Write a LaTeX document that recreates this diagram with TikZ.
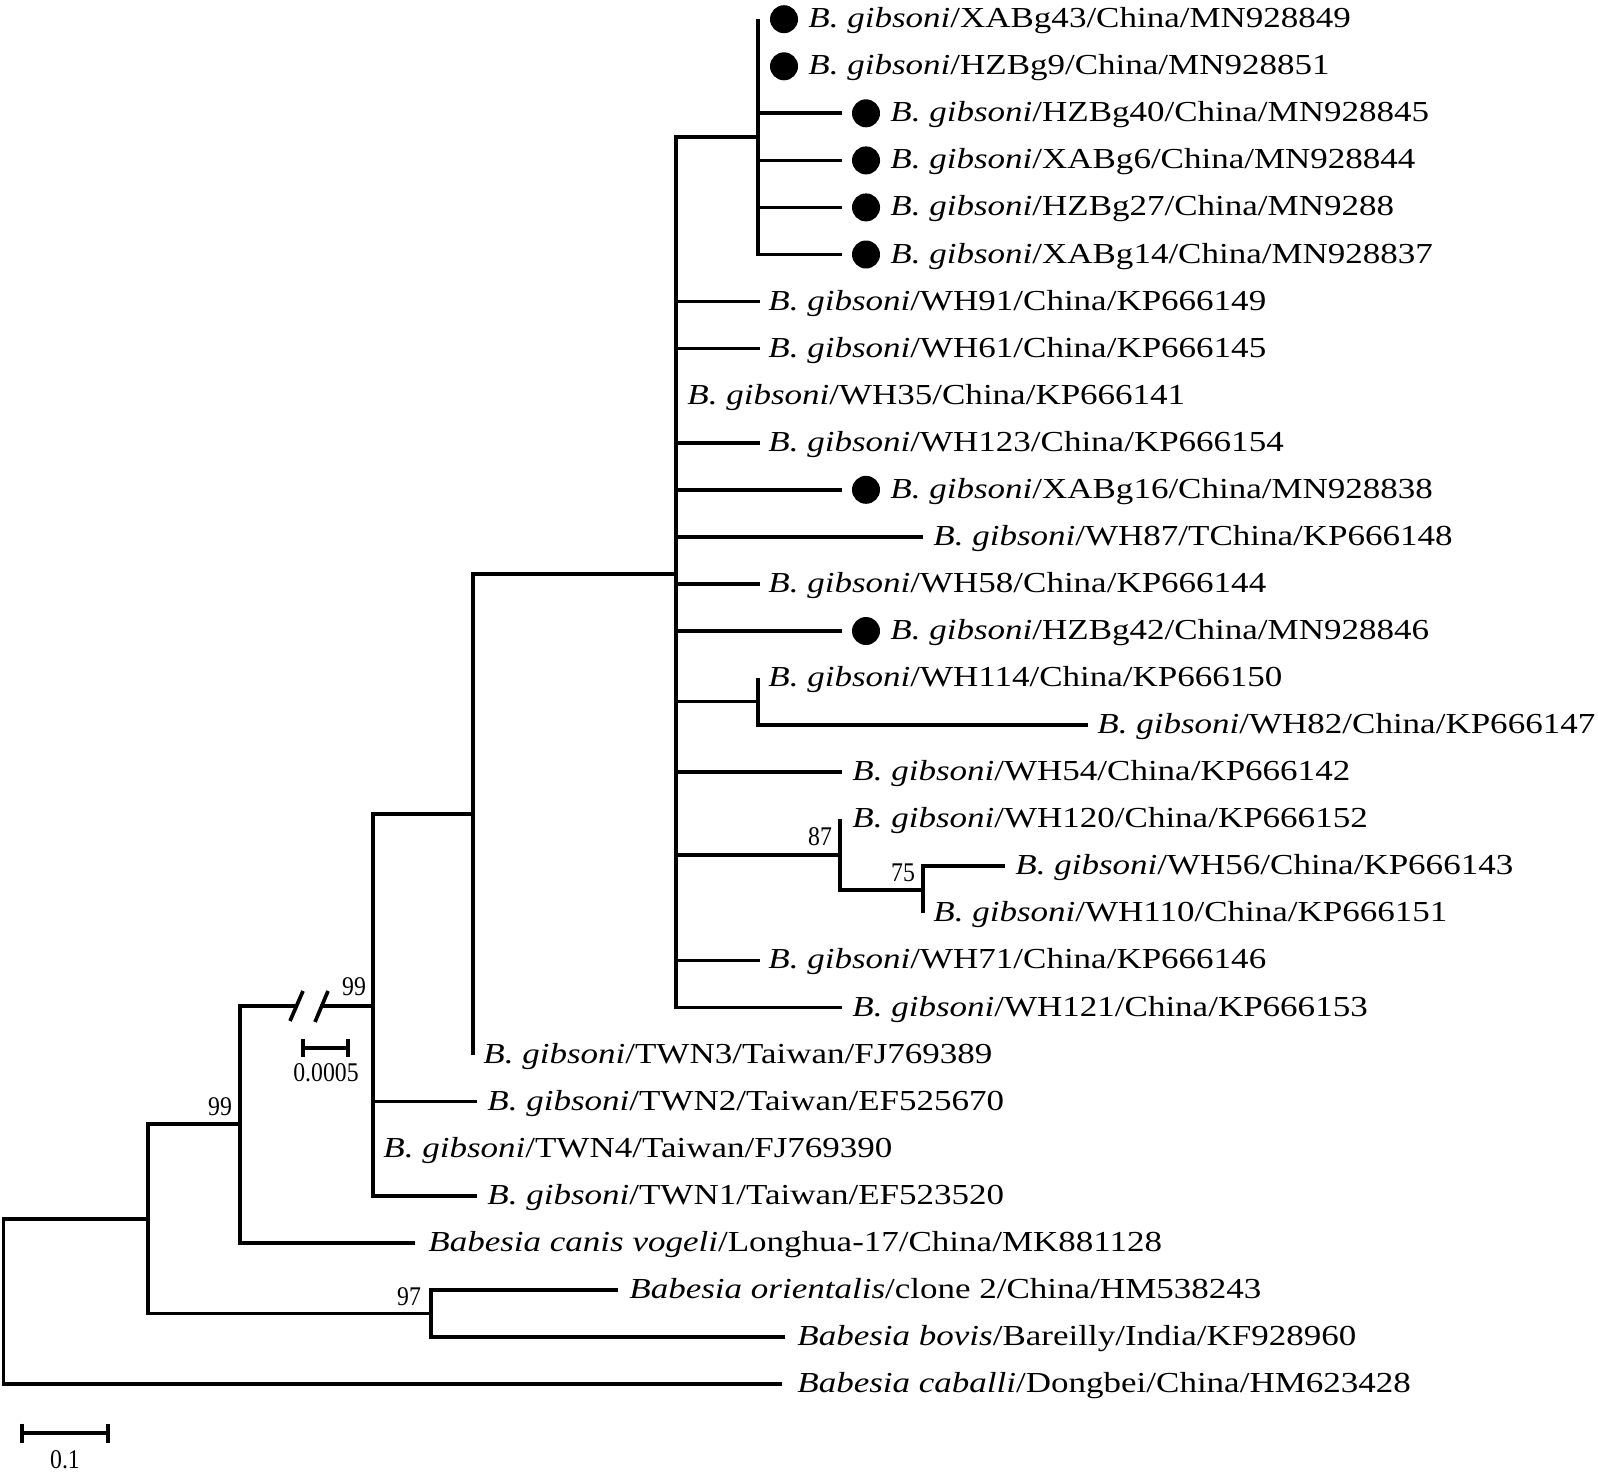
\documentclass[tikz,border=0pt]{standalone}
\usepackage{fontspec}
\setmainfont{Liberation Serif}[FakeStretch=1.207]
\newfontfamily\bsfont{Liberation Serif}[FakeStretch=0.88]
\newcommand\bgib{{\itshape B. gibsoni}}
\begin{document}
\begin{tikzpicture}[x=0.5pt,y=-0.5pt,
  br/.style={line width=1.85pt},
  lab/.style={anchor=base west,inner sep=0pt,font=\fontsize{14.5pt}{16pt}\selectfont},
  leafdot/.style={circle,fill=black,inner sep=0pt,minimum size=14pt},
  bs/.style={inner sep=0pt,font=\bsfont\fontsize{13.5pt}{15pt}\selectfont}]
\useasboundingbox (0,0) rectangle (1598,1478);
% internal nodes
\coordinate (R) at (3.5,1301);
\coordinate (A) at (148,1219);
\coordinate (B) at (240,1124);
\coordinate (C) at (373,1006);
\coordinate (D) at (473,814);
\coordinate (E) at (676,574);
\coordinate (X) at (758,137);
\coordinate (W) at (758,701.6);
\coordinate (F) at (840,855);
\coordinate (G) at (923,889.8);
\coordinate (P) at (431,1313.4);
\coordinate (k1) at (296.5,1006);
\coordinate (k2) at (321.7,1006);
% leaf tips
\coordinate (t1) at (758,19.2);
\coordinate (t2) at (758,66.3);
\coordinate (t3) at (842,113.3);
\coordinate (t4) at (842,160.4);
\coordinate (t5) at (842,207.4);
\coordinate (t6) at (842,254.5);
\coordinate (t7) at (760,301.6);
\coordinate (t8) at (760,348.6);
\coordinate (t9) at (676,395.7);
\coordinate (t10) at (760,442.7);
\coordinate (t11) at (842,489.8);
\coordinate (t12) at (923,536.9);
\coordinate (t13) at (760,583.9);
\coordinate (t14) at (842,631.0);
\coordinate (t15) at (758,678.0);
\coordinate (t16) at (1088,725.1);
\coordinate (t17) at (842,772.2);
\coordinate (t18) at (840,819.2);
\coordinate (t19) at (1005,866.3);
\coordinate (t20) at (923,913.3);
\coordinate (t21) at (760,960.4);
\coordinate (t22) at (842,1007.5);
\coordinate (t23) at (473,1054.5);
\coordinate (t24) at (477,1101.6);
\coordinate (t25) at (373,1148.6);
\coordinate (t26) at (477,1195.7);
\coordinate (t27) at (415,1242.8);
\coordinate (t28) at (618,1289.8);
\coordinate (t29) at (785,1336.9);
\coordinate (t30) at (782,1383.9);
% branches
\draw[br] (R) |- (A);
\draw[br] (R) |- (t30);
\draw[br] (A) |- (B);
\draw[br] (A) |- (P);
\draw[br] (P) |- (t28);
\draw[br] (P) |- (t29);
\draw[br] (B) |- (t27);
\draw[br] (B) |- (k1);
\draw[br] (k2) -- (C);
\draw[br] (C) |- (D);
\draw[br] (C) |- (t24);
\draw[br] (C) |- (t25);
\draw[br] (C) |- (t26);
\draw[br] (D) |- (E);
\draw[br] (D) |- (t23);
\draw[br] (E) |- (X);
\foreach \i in {7,...,14} {\draw[br] (E) |- (t\i);}
\draw[br] (E) |- (W);
\draw[br] (E) |- (t17);
\draw[br] (E) |- (F);
\draw[br] (E) |- (t21);
\draw[br] (E) |- (t22);
\foreach \i in {1,...,6} {\draw[br] (X) |- (t\i);}
\draw[br] (W) |- (t15);
\draw[br] (W) |- (t16);
\draw[br] (F) |- (t18);
\draw[br] (F) |- (G);
\draw[br] (G) |- (t19);
\draw[br] (G) |- (t20);
% break marks
\coordinate (s1a) at (290,1021); \coordinate (s1b) at (303,991);
\coordinate (s2a) at (315,1022); \coordinate (s2b) at (328,991);
\draw[br] (s1a) -- (s1b);
\draw[br] (s2a) -- (s2b);
% dots
\node[leafdot] (d1) at (784,19.2) {};
\node[leafdot] (d2) at (784,66.3) {};
\node[leafdot] (d3) at (866,113.3) {};
\node[leafdot] (d4) at (866,160.4) {};
\node[leafdot] (d5) at (866,207.4) {};
\node[leafdot] (d6) at (866,254.5) {};
\node[leafdot] (d11) at (866,489.8) {};
\node[leafdot] (d14) at (866,631.0) {};
% labels
\node[lab] (l1) at (808,27.7) {\bgib/XABg43/China/MN928849};
\node[lab] (l2) at (808,74.8) {\bgib/HZBg9/China/MN928851};
\node[lab] (l3) at (890,121.8) {\bgib/HZBg40/China/MN928845};
\node[lab] (l4) at (890,168.9) {\bgib/XABg6/China/MN928844};
\node[lab] (l5) at (890,215.9) {\bgib/HZBg27/China/MN9288};
\node[lab] (l6) at (890,263.0) {\bgib/XABg14/China/MN928837};
\node[lab] (l7) at (768,310.1) {\bgib/WH91/China/KP666149};
\node[lab] (l8) at (768,357.1) {\bgib/WH61/China/KP666145};
\node[lab] (l9) at (687,404.2) {\bgib/WH35/China/KP666141};
\node[lab] (l10) at (768,451.2) {\bgib/WH123/China/KP666154};
\node[lab] (l11) at (890,498.3) {\bgib/XABg16/China/MN928838};
\node[lab] (l12) at (933,545.4) {\bgib/WH87/TChina/KP666148};
\node[lab] (l13) at (768,592.4) {\bgib/WH58/China/KP666144};
\node[lab] (l14) at (890,639.5) {\bgib/HZBg42/China/MN928846};
\node[lab] (l15) at (768,686.5) {\bgib/WH114/China/KP666150};
\node[lab] (l16) at (1097,733.6) {\bgib/WH82/China/KP666147};
\node[lab] (l17) at (852,780.7) {\bgib/WH54/China/KP666142};
\node[lab] (l18) at (852,827.7) {\bgib/WH120/China/KP666152};
\node[lab] (l19) at (1015,874.8) {\bgib/WH56/China/KP666143};
\node[lab] (l20) at (933,921.8) {\bgib/WH110/China/KP666151};
\node[lab] (l21) at (768,968.9) {\bgib/WH71/China/KP666146};
\node[lab] (l22) at (852,1016.0) {\bgib/WH121/China/KP666153};
\node[lab] (l23) at (483,1063.0) {\bgib/TWN3/Taiwan/FJ769389};
\node[lab] (l24) at (487,1110.1) {\bgib/TWN2/Taiwan/EF525670};
\node[lab] (l25) at (383,1157.1) {\bgib/TWN4/Taiwan/FJ769390};
\node[lab] (l26) at (487,1204.2) {\bgib/TWN1/Taiwan/EF523520};
\node[lab] (l27) at (428,1251.3) {{\itshape Babesia canis vogeli}/Longhua-17/China/MK881128};
\node[lab] (l28) at (629,1298.3) {{\itshape Babesia orientalis}/clone 2/China/HM538243};
\node[lab] (l29) at (797,1345.4) {{\itshape Babesia bovis}/Bareilly/India/KF928960};
\node[lab] (l30) at (797,1392.4) {{\itshape Babesia caballi}/Dongbei/China/HM623428};
% bootstrap values
\node[bs] (b99a) at (354,987) {99};
\node[bs] (b99b) at (220,1107) {99};
\node[bs] (b97) at (409,1297) {97};
\node[bs] (b87) at (820,837) {87};
\node[bs] (b75) at (903,873) {75};
% scale bars
\coordinate (sa) at (303,1048); \coordinate (sb) at (348,1048);
\draw[br] (sa) -- (sb);
\draw[br] (sa) ++(0,-9) -- ++(0,18);
\draw[br] (sb) ++(0,-9) -- ++(0,18);
\node[bs] (sl1) at (326,1073) {0.0005};
\coordinate (sc) at (22,1433); \coordinate (sd) at (108,1433);
\draw[br] (sc) -- (sd);
\draw[br] (sc) ++(0,-9.5) -- ++(0,19);
\draw[br] (sd) ++(0,-9.5) -- ++(0,19);
\node[bs] (sl2) at (65,1460) {0.1};
\end{tikzpicture}
\end{document}
